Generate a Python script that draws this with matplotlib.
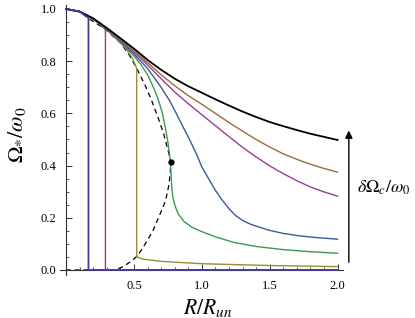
import numpy as np
import matplotlib
matplotlib.use("Agg")
import matplotlib.pyplot as plt
from matplotlib.colors import hsv_to_rgb

plt.rcParams['font.family'] = ['Liberation Serif', 'DejaVu Serif']
plt.rcParams['mathtext.fontset'] = 'stix'

# curves: R/R_un and Omega_*/omega_0
R_blue1 = [0, 0.1, 0.165, 0.165, 2.0]
W_blue1 = [1.0, 0.99, 0.966, 0.0, 0.0]

R_mag1 = [0, 0.1, 0.2, 0.29, 0.29, 2.0]
W_mag1 = [1.0, 0.99, 0.962, 0.922, 0.0, 0.0]

R_olive = [0, 0.1, 0.2, 0.3, 0.4, 0.45, 0.49, 0.52, 0.52, 0.56, 0.7, 1.0, 1.5, 2.0]
W_olive = [1.0, 0.99, 0.962, 0.92, 0.87, 0.842, 0.81, 0.773, 0.051, 0.042, 0.033, 0.024, 0.017, 0.013]

R_green = [0, 0.1, 0.2, 0.3, 0.4, 0.5, 0.55, 0.6, 0.63, 0.66, 0.69, 0.71, 0.73, 0.75, 0.763, 0.77, 0.774,
           0.778, 0.785, 0.795, 0.81, 0.83, 0.87, 0.93, 1.0, 1.1, 1.24, 1.4, 1.6, 1.8, 2.0]
W_green = [1.0, 0.99, 0.962, 0.921, 0.874, 0.82, 0.788, 0.748, 0.715, 0.68, 0.635, 0.6, 0.55, 0.49, 0.44, 0.40, 0.36,
           0.32, 0.285, 0.26, 0.235, 0.212, 0.185, 0.163, 0.147, 0.127, 0.105, 0.09, 0.078, 0.07, 0.064]

R_blue2 = [0, 0.1, 0.2, 0.3, 0.4, 0.5, 0.6, 0.7, 0.76, 0.8, 0.85, 0.9, 0.96, 1.0, 1.05, 1.1,
           1.15, 1.2, 1.25, 1.3, 1.36, 1.43, 1.49, 1.6, 1.73, 1.87, 2.0]
W_blue2 = [1.0, 0.99, 0.962, 0.922, 0.877, 0.828, 0.772, 0.700, 0.651, 0.612, 0.56, 0.51, 0.445, 0.395, 0.35, 0.305,
           0.268, 0.235, 0.208, 0.19, 0.175, 0.163, 0.153, 0.140, 0.130, 0.123, 0.118]

R_grid = [0, 0.1, 0.2, 0.3, 0.4, 0.5, 0.6, 0.7, 0.8, 0.9, 1.0, 1.1, 1.2, 1.3, 1.4, 1.5, 1.6, 1.7, 1.8, 1.9, 2.0]
W_mag2 = [1.0, 0.99, 0.962, 0.923, 0.880, 0.835, 0.786, 0.733, 0.682, 0.637, 0.595, 0.553, 0.511, 0.470,
          0.433, 0.399, 0.369, 0.342, 0.318, 0.299, 0.283]
W_brown = [1.0, 0.99, 0.963, 0.925, 0.884, 0.840, 0.795, 0.748, 0.706, 0.668, 0.635, 0.600, 0.565, 0.532,
           0.500, 0.471, 0.445, 0.424, 0.405, 0.389, 0.375]
W_black = [1.0, 0.99, 0.964, 0.927, 0.888, 0.848, 0.805, 0.767, 0.733, 0.704, 0.679, 0.654, 0.630, 0.607,
           0.586, 0.567, 0.551, 0.536, 0.522, 0.510, 0.498]

R_dash = [0, 0.1, 0.165, 0.29, 0.4, 0.465, 0.52, 0.58, 0.63, 0.68, 0.72, 0.75, 0.765, 0.77, 0.768, 0.755,
          0.735, 0.71, 0.68, 0.64, 0.6, 0.56, 0.52, 0.47, 0.42, 0.38, 0.35, 0]
W_dash = [1, 0.99, 0.964, 0.922, 0.87, 0.824, 0.773, 0.71, 0.65, 0.58, 0.52, 0.46, 0.43, 0.415, 0.37, 0.32,
          0.27, 0.235, 0.2, 0.15, 0.115, 0.08, 0.051, 0.03, 0.013, 0.004, 0, 0]

R_dot, W_dot = 0.77, 0.415

# mathematica default hues
def mhue(h):
    return hsv_to_rgb([h, 0.6, 0.6])

fig = plt.figure(figsize=(4.15, 3.18), dpi=100)
ax = fig.add_axes([0.1445, 0.1346, 0.682, 0.8503])

lw = 1.0
ax.plot(R_dash, W_dash, color='black', lw=0.9, dashes=(4, 3), zorder=2)
ax.plot(R_mag1, W_mag1, color=mhue(0.906), lw=lw, zorder=3)
ax.plot(R_blue1, W_blue1, color=mhue(0.67), lw=lw + 0.3, zorder=4)
ax.plot(R_olive, W_olive, color=mhue(0.142), lw=lw, zorder=3)
ax.plot(R_green, W_green, color=mhue(0.378), lw=lw, zorder=3)
ax.plot(R_blue2, W_blue2, color=mhue(0.614), lw=lw, zorder=3)
ax.plot(R_grid, W_mag2, color=mhue(0.85), lw=lw, zorder=3)
ax.plot(R_grid, W_brown, color=mhue(0.086), lw=lw, zorder=3)
ax.plot(R_grid, W_black, color='black', lw=1.3, zorder=3)
ax.plot([R_dot], [W_dot], 'o', color='black', ms=3.5, zorder=5)

ax.set_xlim(-0.045, 2.04)
ax.set_ylim(-0.02, 1.016)
for s in ['top', 'right']:
    ax.spines[s].set_visible(False)
ax.spines['left'].set_position(('data', 0))
ax.spines['bottom'].set_position(('data', 0))
for s in ['left', 'bottom']:
    ax.spines[s].set_linewidth(0.8)
    ax.spines[s].set_color('#333333')

ax.set_xticks([0.5, 1.0, 1.5, 2.0])
ax.set_xticklabels(['0.5', '1.0', '1.5', '2.0'])
ax.set_xticks(np.arange(0.1, 2.01, 0.1), minor=True)
ax.set_yticks([0.0, 0.2, 0.4, 0.6, 0.8, 1.0])
ax.set_yticklabels(['0.0', '0.2', '0.4', '0.6', '0.8', '1.0'])
ax.set_yticks(np.arange(0.05, 1.0, 0.05), minor=True)
ax.tick_params(which='both', direction='in', color='#333333', labelsize=9)
ax.tick_params(which='major', length=4, width=0.7, pad=7)
ax.tick_params(which='minor', length=2, width=0.6)

fig.text(0.5, 0.03, r'$R/R_{un}$', fontsize=15.5, ha='center', va='center')
fig.text(0.042, 0.575, r'$\Omega_{*}/\omega_0$', fontsize=16, ha='center', va='center', rotation=90)

ax.annotate('', xy=(2.083, 0.545), xytext=(2.083, 0.019), xycoords='data',
            arrowprops=dict(arrowstyle='-|>', color='black', lw=1.0, mutation_scale=11),
            annotation_clip=False)
ax.text(2.143, 0.314, r'$\delta\Omega_c/\omega_0$', fontsize=13, ha='left', va='center', clip_on=False)

fig.savefig('out.png', dpi=100)
